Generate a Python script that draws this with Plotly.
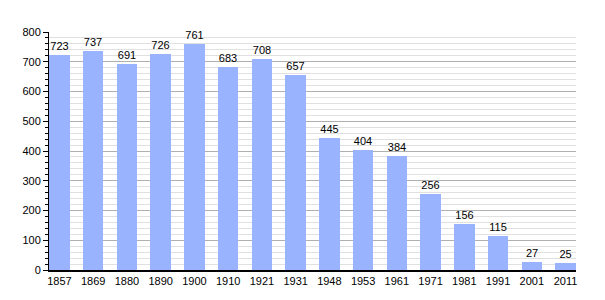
import plotly.graph_objects as go

years = ["1857", "1869", "1880", "1890", "1900", "1910", "1921", "1931",
         "1948", "1953", "1961", "1971", "1981", "1991", "2001", "2011"]
population = [723, 737, 691, 726, 761, 683, 708, 657,
              445, 404, 384, 256, 156, 115, 27, 25]

fig = go.Figure()
fig.add_trace(go.Bar(
    x=years, y=population,
    marker=dict(color="#99b3ff", line=dict(width=0)),
    width=0.61,
    text=[str(v) for v in population],
    textposition="outside",
    textfont=dict(family="Liberation Sans, Arial, sans-serif", size=11, color="#000"),
    cliponaxis=False,
))

fig.update_layout(
    width=605, height=300,
    margin=dict(l=49, r=29, t=32, b=30),
    paper_bgcolor="white", plot_bgcolor="white",
    showlegend=False,
    bargap=0,
    font=dict(family="Liberation Sans, Arial, sans-serif", size=11, color="#000"),
    uniformtext=dict(mode=False),
)
fig.update_xaxes(
    type="category",
    range=[-0.31, 15.31],
    showline=True, linecolor="#000", linewidth=1.5,
    ticks="", showgrid=False,
    tickfont=dict(size=11),
)
fig.update_yaxes(
    range=[0, 800],
    tickvals=[0, 100, 200, 300, 400, 500, 600, 700, 800],
    showline=True, linecolor="#000", linewidth=1,
    ticks="outside", ticklen=5, tickcolor="#000", tickwidth=1,
    showgrid=True, gridcolor="#b0b0b0", gridwidth=1,
    zeroline=False,
    minor=dict(dtick=20, showgrid=True, gridcolor="#e0e0e0", gridwidth=1,
               ticks="outside", ticklen=3, tickcolor="#000"),
    tickfont=dict(size=11),
)
fig.update_traces(textangle=0)
fig.write_html("out.html")
